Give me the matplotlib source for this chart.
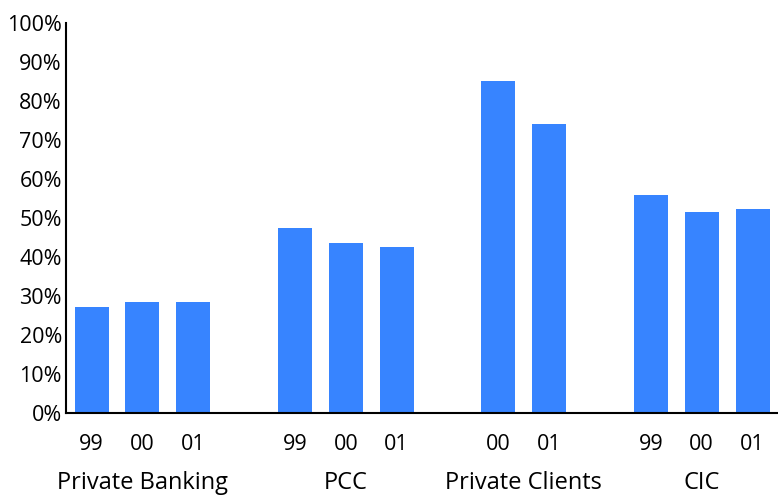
import matplotlib
matplotlib.use("Agg")
import matplotlib.pyplot as plt
from matplotlib.ticker import PercentFormatter

plt.rcParams['font.family'] = ['Open Sans', 'DejaVu Sans']

# segments and their yearly shares (%)
segments = ['Private Banking', 'PCC', 'Private Clients', 'CIC']
years = [['99', '00', '01'], ['99', '00', '01'], ['00', '01'], ['99', '00', '01']]
values = [[27.1, 28.4, 28.4], [47.3, 43.5, 42.5], [85.2, 74.2], [55.8, 51.4, 52.4]]

bar_color = '#3784FF'

fig = plt.figure(figsize=(7.78, 4.97), dpi=100)
ax = fig.add_axes([0.085, 0.169, 0.915, 0.785])

xs, labels, heights = [], [], []
pos = 0
centers = []
for seg, yrs, vals in zip(segments, years, values):
    start = pos
    for y, v in zip(yrs, vals):
        xs.append(pos)
        labels.append(y)
        heights.append(v)
        pos += 1
    centers.append((start + pos - 1) / 2)
    pos += 1  # gap between segments

ax.bar(xs, heights, width=0.67, color=bar_color, zorder=2)

ax.set_xlim(-0.5, 13.5)
ax.set_ylim(0, 100)
ax.set_yticks(range(0, 101, 10))
ax.yaxis.set_major_formatter(PercentFormatter(decimals=0))
ax.set_xticks(xs)
ax.set_xticklabels(labels)
ax.tick_params(axis='x', length=0, labelsize=15.5, pad=15)
ax.tick_params(axis='y', length=0, labelsize=15.5, pad=3)

for c, seg in zip(centers, segments):
    ax.text(c, -18, seg, ha='center', va='center', fontsize=17,
            transform=ax.transData, clip_on=False)

for side in ['top', 'right']:
    ax.spines[side].set_visible(False)
for side in ['left', 'bottom']:
    ax.spines[side].set_color('black')
    ax.spines[side].set_linewidth(1.5)

fig.savefig('out.png', dpi=100)
